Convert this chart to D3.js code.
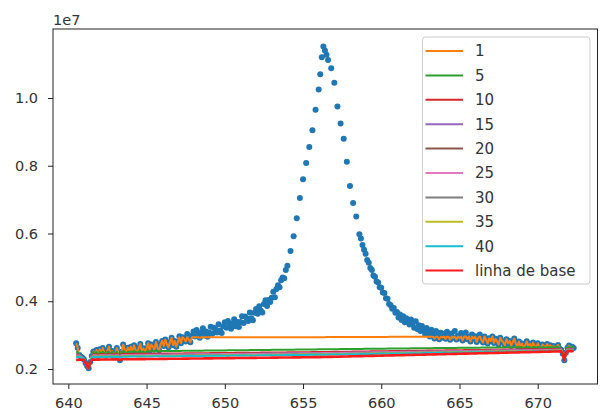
<!DOCTYPE html>
<html><head><meta charset="utf-8">
<script src="https://cdn.jsdelivr.net/npm/d3@7"></script>
<style>body{margin:0;background:#fff;} text{font-family:"DejaVu Sans",sans-serif;}</style>
</head><body><svg id="c" width="601" height="412"></svg>
<script>
// ---- data ----
const wavelength = [
640.5,640.6,640.7,640.8,640.9,
641.0,641.1,641.2,641.3,641.4,641.5,641.6,641.7,641.8,641.9,
642.0,642.1,642.2,642.3,642.4,642.5,642.6,642.7,642.8,642.9,
643.0,643.1,643.2,643.3,643.4,643.5,643.6,643.7,643.8,643.9,
644.0,644.1,644.2,644.3,644.4,644.5,644.6,644.7,644.8,644.9,
645.0,645.1,645.2,645.3,645.4,645.5,645.6,645.7,645.8,645.9,
646.0,646.1,646.2,646.3,646.4,646.5,646.6,646.7,646.8,646.9,
647.0,647.1,647.2,647.3,647.4,647.5,647.6,647.7,647.8,647.9,
648.0,648.1,648.2,648.3,648.4,648.5,648.6,648.7,648.8,648.9,
649.0,649.1,649.2,649.3,649.4,649.5,649.6,649.7,649.8,649.9,
650.0,650.1,650.2,650.3,650.4,650.5,650.6,650.7,650.8,650.9,
651.0,651.1,651.2,651.3,651.4,651.5,651.6,651.7,651.8,651.9,
652.0,652.1,652.2,652.3,652.4,652.5,652.6,652.7,652.8,652.9,
653.0,653.1,653.2,653.3,653.4,653.5,653.6,653.7,653.8,653.9,
654.0,654.2,654.4,654.6,654.8,655.0,655.2,655.4,655.6,655.8,
656.0,656.1,656.2,656.3,656.4,656.5,656.6,656.8,657.0,657.2,
657.4,657.6,657.8,658.0,658.2,658.4,658.6,658.7,658.8,658.9,
659.0,659.1,659.2,659.3,659.4,659.5,659.6,659.7,659.8,659.9,
660.0,660.1,660.2,660.3,660.4,660.5,660.6,660.7,660.8,660.9,
661.0,661.1,661.2,661.3,661.4,661.5,661.6,661.7,661.8,661.9,
662.0,662.1,662.2,662.3,662.4,662.5,662.6,662.7,662.8,662.9,
663.0,663.1,663.2,663.3,663.4,663.5,663.6,663.7,663.8,663.9,
664.0,664.1,664.2,664.3,664.4,664.5,664.6,664.7,664.8,664.9,
665.0,665.1,665.2,665.3,665.4,665.5,665.6,665.7,665.8,665.9,
666.0,666.1,666.2,666.3,666.4,666.5,666.6,666.7,666.8,666.9,
667.0,667.1,667.2,667.3,667.4,667.5,667.6,667.7,667.8,667.9,
668.0,668.1,668.2,668.3,668.4,668.5,668.6,668.7,668.8,668.9,
669.0,669.1,669.2,669.3,669.4,669.5,669.6,669.7,669.8,669.9,
670.0,670.1,670.2,670.3,670.4,670.5,670.6,670.7,670.8,670.9,
671.0,671.1,671.2,671.3,671.4,671.5,671.6,671.7,671.8,671.9,
672.0,672.1,672.2,672.3];
// measured intensity, in units of 1e7
const intensity = [
0.276,0.262,0.241,0.236,0.233,
0.228,0.218,0.209,0.202,0.221,0.238,0.252,0.243,0.256,0.238,
0.258,0.244,0.262,0.248,0.239,0.255,0.266,0.241,0.253,0.237,
0.246,0.262,0.240,0.226,0.251,0.272,0.258,0.244,0.263,0.250,
0.266,0.252,0.270,0.256,0.247,0.263,0.274,0.249,0.261,0.245,
0.261,0.276,0.253,0.272,0.266,0.257,0.280,0.262,0.255,0.273,
0.283,0.268,0.287,0.273,0.264,0.280,0.292,0.270,0.283,0.266,
0.280,0.297,0.276,0.294,0.289,0.281,0.303,0.287,0.279,0.298,
0.311,0.296,0.315,0.301,0.292,0.308,0.320,0.299,0.311,0.295,
0.308,0.325,0.304,0.322,0.317,0.308,0.332,0.314,0.306,0.326,
0.338,0.322,0.342,0.328,0.319,0.335,0.347,0.326,0.339,0.324,
0.339,0.356,0.336,0.355,0.350,0.342,0.367,0.350,0.344,0.366,
0.377,0.363,0.385,0.373,0.367,0.392,0.403,0.386,0.404,0.398,
0.410,0.428,0.412,0.436,0.447,0.441,0.462,0.470,0.468,0.492,
0.505,0.548,0.592,0.645,0.705,0.760,0.808,0.855,0.905,0.965,
1.025,1.070,1.120,1.152,1.140,1.128,1.112,1.088,1.045,0.975,
0.925,0.880,0.812,0.740,0.690,0.650,0.598,0.585,0.566,0.552,
0.540,0.522,0.514,0.498,0.492,0.476,0.472,0.458,0.455,0.441,
0.440,0.426,0.424,0.409,0.407,0.392,0.388,0.378,0.380,0.366,
0.368,0.352,0.361,0.345,0.356,0.338,0.350,0.342,0.331,0.346,
0.334,0.322,0.341,0.318,0.329,0.312,0.327,0.316,0.303,0.321,
0.309,0.296,0.316,0.302,0.290,0.312,0.298,0.288,0.307,0.293,
0.304,0.289,0.310,0.297,0.286,0.305,0.292,0.312,0.287,0.298,
0.291,0.306,0.284,0.299,0.308,0.288,0.296,0.281,0.302,0.290,
0.297,0.280,0.293,0.302,0.285,0.278,0.296,0.287,0.275,0.291,
0.283,0.296,0.277,0.289,0.281,0.272,0.292,0.284,0.279,0.270,
0.288,0.276,0.283,0.268,0.279,0.290,0.274,0.268,0.281,0.266,
0.275,0.261,0.270,0.282,0.266,0.274,0.260,0.278,0.269,0.263,
0.276,0.265,0.260,0.272,0.268,0.258,0.274,0.263,0.270,0.262,
0.268,0.259,0.266,0.271,0.260,0.257,0.245,0.226,0.248,0.263,
0.269,0.260,0.266,0.262];

// fitted curve of each iteration: value at start (640.5), middle (656) and end (672.3)
const knotLambda = [640.5, 656.0, 672.3];
const labels   = ["1","5","10","15","20","25","30","35","40","linha de base"];
const fitStart = [0.293,0.250,0.243,0.240,0.238,0.239,0.237,0.236,0.235,0.227];
const fitMid   = [0.294,0.258,0.250,0.247,0.245,0.246,0.244,0.243,0.242,0.235];
const fitEnd   = [0.297,0.266,0.260,0.258,0.257,0.257,0.256,0.255,0.254,0.253];
const colors = ["#ff7f0e","#2ca02c","#d62728","#9467bd","#8c564b","#e377c2","#7f7f7f","#bcbd22","#17becf","#ff1a1a"];
const xTicks = [640,645,650,655,660,665,670];
const yTicks = [0.2,0.4,0.6,0.8,1.0];

// ---- layout ----
const L=53, R=597.5, T=29, B=384;
const FS = 14.5;
const svg = d3.select("#c");
const x = d3.scaleLinear().domain([639.02,673.82]).range([L,R]);
const y = d3.scaleLinear().domain([0.1557,1.2037]).range([B,T]);

svg.append("clipPath").attr("id","clip").append("rect")
  .attr("x",L).attr("y",T).attr("width",R-L).attr("height",B-T);
const plot = svg.append("g").attr("clip-path","url(#clip)");

plot.selectAll("circle").data(wavelength).enter().append("circle")
  .attr("cx",d=>x(d)).attr("cy",(d,i)=>y(intensity[i])).attr("r",3)
  .attr("fill","#1f77b4");

// each iteration curve = min(data, fitted curve)
const line = d3.line().x(d=>x(d[0])).y(d=>y(d[1]));
labels.forEach((lab,k)=>{
  const fit = d3.scaleLinear().domain(knotLambda).range([fitStart[k],fitMid[k],fitEnd[k]]);
  const pts = wavelength.map((w,i)=>[w, Math.min(intensity[i], fit(w))]);
  plot.append("path").datum(pts).attr("d",line).attr("fill","none")
    .attr("stroke",colors[k]).attr("stroke-width", k===9?2.6:2)
    .attr("stroke-linejoin","round");
});

// axes
const xa = svg.append("g").attr("transform",`translate(0,${B})`)
  .call(d3.axisBottom(x).tickValues(xTicks).tickSize(5).tickPadding(9).tickFormat(d3.format("d")));
const ya = svg.append("g").attr("transform",`translate(${L},0)`)
  .call(d3.axisLeft(y).tickValues(yTicks).tickSize(5).tickPadding(10).tickFormat(d3.format(".1f")));
[xa,ya].forEach(a=>{
  a.select(".domain").remove();
  a.selectAll("line").attr("stroke","#222");
  a.selectAll("text").attr("font-size",FS).attr("fill","#333").style("font-family","DejaVu Sans");
});
svg.append("rect").attr("x",L).attr("y",T).attr("width",R-L).attr("height",B-T)
  .attr("fill","none").attr("stroke","#222").attr("stroke-width",1);
svg.append("text").attr("x",L).attr("y",25).attr("font-size",FS).attr("fill","#333").text("1e7");

// legend
const lg = svg.append("g");
lg.append("rect").attr("x",422.5).attr("y",37).attr("width",167.5).attr("height",247)
  .attr("rx",3).attr("fill","#fff").attr("fill-opacity",0.85).attr("stroke","#ccc");
labels.forEach((lab,i)=>{
  const yy = 51 + i*24.4;
  lg.append("line").attr("x1",425.5).attr("x2",463).attr("y1",yy).attr("y2",yy)
    .attr("stroke",colors[i]).attr("stroke-width",2);
  lg.append("text").attr("x",475).attr("y",yy).attr("dy","0.36em").attr("font-size",15)
    .attr("fill","#333").text(lab);
});
</script></body></html>
